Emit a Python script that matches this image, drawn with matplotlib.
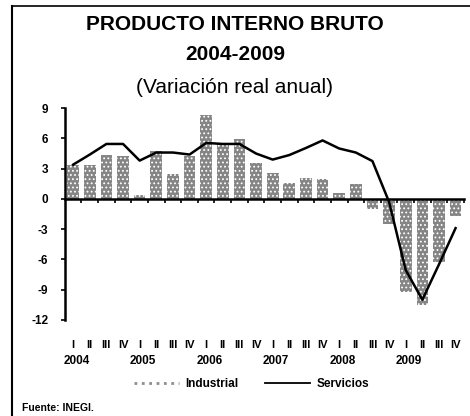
import matplotlib
matplotlib.use("Agg")
import matplotlib.pyplot as plt
from matplotlib.lines import Line2D
import numpy as np

# data (real annual change, %)
years = ["2004", "2005", "2006", "2007", "2008", "2009"]
quarter_labels = ["I", "II", "III", "IV"] * 6
industrial = [3.4, 3.4, 4.4, 4.25, 0.4, 4.8, 2.45, 4.25,
              8.3, 5.55, 5.95, 3.6, 2.6, 1.6, 2.1, 1.95,
              0.6, 1.5, -1.0, -2.5, -9.2, -10.5, -6.25, -1.7]
servicios = [3.4, 4.4, 5.45, 5.45, 3.8, 4.6, 4.6, 4.4,
             5.55, 5.45, 5.45, 4.5, 3.9, 4.35, 5.05, 5.8,
             5.0, 4.6, 3.75, -0.3, -7.05, -10.0, -6.5, -2.9]
y_ticks = [9, 6, 3, 0, -3, -6, -9, -12]

plt.rcParams["font.family"] = ["Liberation Sans", "DejaVu Sans"]
plt.rcParams["hatch.linewidth"] = 0.8

fig = plt.figure(figsize=(4.7, 4.16), dpi=100)
ax = fig.add_axes([0.138, 0.231, 0.849, 0.509])

x = np.arange(len(industrial))
ax.bar(x, industrial, width=0.7, color="#858585", edgecolor="white",
       linewidth=0, hatch="....", zorder=1)
ax.plot(x, servicios, color="black", lw=1.8, zorder=3)

ax.set_xlim(-0.5, len(industrial) - 0.5)
ax.set_ylim(-12, 9)
ax.set_yticks(y_ticks)
ax.set_yticklabels([str(v) for v in y_ticks], fontsize=8.5, fontweight="bold")
ax.tick_params(axis="y", direction="out", length=3, width=1.2, pad=9)

# x axis sits on zero, ticks at quarter boundaries
ax.spines["bottom"].set_position(("data", 0))
ax.spines["bottom"].set_linewidth(1.8)
ax.spines["bottom"].set_zorder(4)
ax.spines["left"].set_linewidth(1.8)
ax.spines["top"].set_visible(False)
ax.spines["right"].set_visible(False)
ax.set_xticks(np.arange(len(industrial)) + 0.5)
ax.set_xticklabels([])
ax.tick_params(axis="x", direction="out", length=3, width=1.2)

# quarter and year labels below the plot
tr = ax.get_xaxis_transform()
for i, q in enumerate(quarter_labels):
    ax.text(i, -0.12, q, transform=tr, ha="center", va="center",
            fontsize=8, fontweight="bold")
for k, yr in enumerate(years):
    ax.text(k * 4 + 0.2, -0.195, yr, transform=tr, ha="center", va="center",
            fontsize=8.5, fontweight="bold")

fig.text(0.5, 0.94, "PRODUCTO INTERNO BRUTO", ha="center", va="center",
         fontsize=15, fontweight="bold")
fig.text(0.5, 0.868, "2004-2009", ha="center", va="center",
         fontsize=15, fontweight="bold")
fig.text(0.5, 0.79, "(Variación real anual)", ha="center", va="center",
         fontsize=15)

handles = [Line2D([], [], color="#8e8e8e", lw=2, ls=":"),
           Line2D([], [], color="black", lw=1.3)]
fig.legend(handles, ["Industrial", "Servicios"], loc="center",
           bbox_to_anchor=(0.535, 0.077), ncol=2, frameon=False,
           handlelength=3.8, columnspacing=2.2, handletextpad=0.6,
           prop={"size": 8.5, "weight": "bold"})

fig.text(0.047, 0.019, "Fuente: INEGI.", ha="left", va="center",
         fontsize=7.5, fontweight="bold")

# frame lines at top and left of the picture
fig.add_artist(Line2D([0.026, 1.0], [0.985, 0.985], color="black", lw=1.2))
fig.add_artist(Line2D([0.026, 0.026], [0.0, 0.985], color="black", lw=1.5))

fig.savefig("out.png", dpi=100)
